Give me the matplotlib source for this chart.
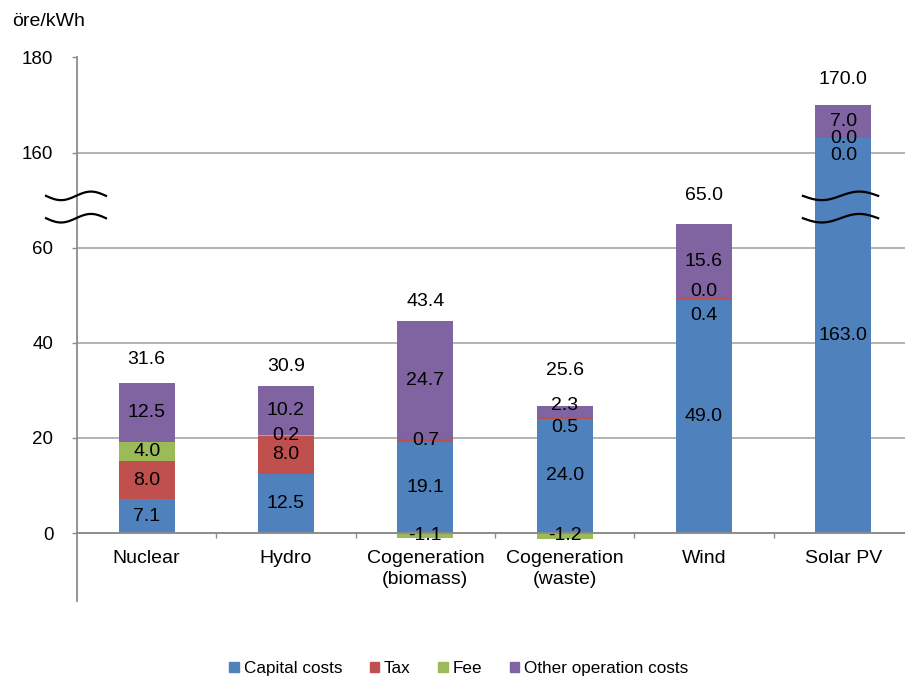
import matplotlib
matplotlib.use('Agg')
import matplotlib.pyplot as plt
import numpy as np
from matplotlib.patches import Patch

plt.rcParams['font.family'] = ['Liberation Sans', 'DejaVu Sans']

# ---------------- data ----------------
categories = ['Nuclear', 'Hydro', 'Cogeneration\n(biomass)', 'Cogeneration\n(waste)', 'Wind', 'Solar PV']
capital = [7.1, 12.5, 19.1, 24.0, 49.0, 163.0]
tax = [8.0, 8.0, 0.7, 0.5, 0.4, 0.0]
fee = [4.0, 0.2, -1.1, -1.2, 0.0, 0.0]
other = [12.5, 10.2, 24.7, 2.3, 15.6, 7.0]
totals = [31.6, 30.9, 43.4, 25.6, 65.0, 170.0]
ytick_values = [0, 20, 40, 60, 160, 180]
series_names = ['Capital costs', 'Tax', 'Fee', 'Other operation costs']

# ---------------- style ----------------
colors = ['#4F81BD', '#C0504D', '#9BBB59', '#8064A2']
GAP = 80          # values above the break are shifted down by this amount
THRESH = 110
# manual label nudges (pixels, positive = down), as in the original
label_dy = [
    [0, 0, 0, 0, 0, 0],
    [0, 0, 0, 10, 16, 17],
    [0, 0, 0, 0, -7, 0],
    [0, 0, 0, -6, 0, 0],
]
total_dy = [23, 20, 20, 35, 28, 26]   # pixels above stack top
PX = 0.72  # points per pixel at dpi 100


def f(v):
    return v if v <= THRESH else v - GAP


fig = plt.figure(figsize=(9.05, 6.81), dpi=100)
ax = fig.add_axes([77 / 905, 1 - 601 / 681, (913 - 77) / 905, (601 - 57.5) / 681])

for sp in ['top', 'right']:
    ax.spines[sp].set_visible(False)
ax.spines['bottom'].set_position(('data', 0))
ax.spines['bottom'].set_color('#8C8C8C')
ax.spines['left'].set_color('#8C8C8C')
ax.spines['bottom'].set_linewidth(1.3)
ax.spines['left'].set_linewidth(1.3)
ax.spines['bottom'].set_zorder(3)

series = [capital, tax, fee, other]
x = np.arange(len(categories))
pos_cum = np.zeros(len(categories))
neg_cum = np.zeros(len(categories))
for s, vals in enumerate(series):
    bottoms, heights, mids = [], [], []
    for i, v in enumerate(vals):
        if v >= 0:
            lo = pos_cum[i]
            hi = lo + v
            pos_cum[i] = hi
        else:
            hi = neg_cum[i]
            lo = hi + v
            neg_cum[i] = lo
        b, t = f(lo), f(hi)
        bottoms.append(b)
        heights.append(t - b)
        mids.append((b + t) / 2)
    ax.bar(x, heights, bottom=bottoms, width=0.4, color=colors[s],
           edgecolor='none', zorder=1, label=series_names[s])
    for i, v in enumerate(vals):
        ax.annotate(f'{v:.1f}', (x[i], mids[i]), xytext=(0, -label_dy[s][i] * PX),
                    textcoords='offset points', ha='center', va='center',
                    fontsize=14, zorder=5)

for i, tot in enumerate(totals):
    ax.annotate(f'{tot:.1f}', (x[i], f(pos_cum[i])), xytext=(0, total_dy[i] * PX),
                textcoords='offset points', ha='center', va='center', fontsize=14)

# axes
ax.set_xlim(-0.5, len(categories) - 0.5)
ax.set_ylim(-14.3, f(180))
ax.set_yticks([f(v) for v in ytick_values])
ax.set_yticklabels([str(v) for v in ytick_values])
ax.set_xticks(x)
ax.set_xticklabels(categories, linespacing=1.3)
ax.set_xticks(np.arange(0.5, len(categories) - 0.5, 1), minor=True)
ax.tick_params(axis='x', which='major', length=0, pad=12, labelsize=14)
ax.tick_params(axis='x', which='minor', length=3.6, direction='out', color='#8C8C8C', width=1)
ax.tick_params(axis='y', length=3.6, direction='out', color='#8C8C8C', width=1, pad=13.5,
               labelsize=13.5)

ax.set_axisbelow(True)
ax.yaxis.grid(True, color='#A6A6A6', linewidth=1.2)

# break marks
def wave(xc, half, yc):
    t = np.linspace(0, 1, 60)
    xs = xc - half + 2 * half * t
    ys = yc - 0.9 * np.sin(2 * np.pi * t)
    ax.plot(xs, ys, color='black', lw=1.6, clip_on=False, zorder=6)

for yc in (70.9, 66.2):
    wave(-0.507, 0.215, yc)
    wave(4.98, 0.27, yc)

fig.text(12 / 905, 1 - 22 / 681, 'öre/kWh', fontsize=14, ha='left', va='center')

handles = [Patch(color=c) for c in colors]
fig.legend(handles, series_names, loc='center', bbox_to_anchor=(0.507, 0.018),
           ncol=4, frameon=False, fontsize=12.3, handlelength=0.55, handleheight=0.55,
           handletextpad=0.3, columnspacing=1.6)

fig.savefig('out.png', dpi=100)
